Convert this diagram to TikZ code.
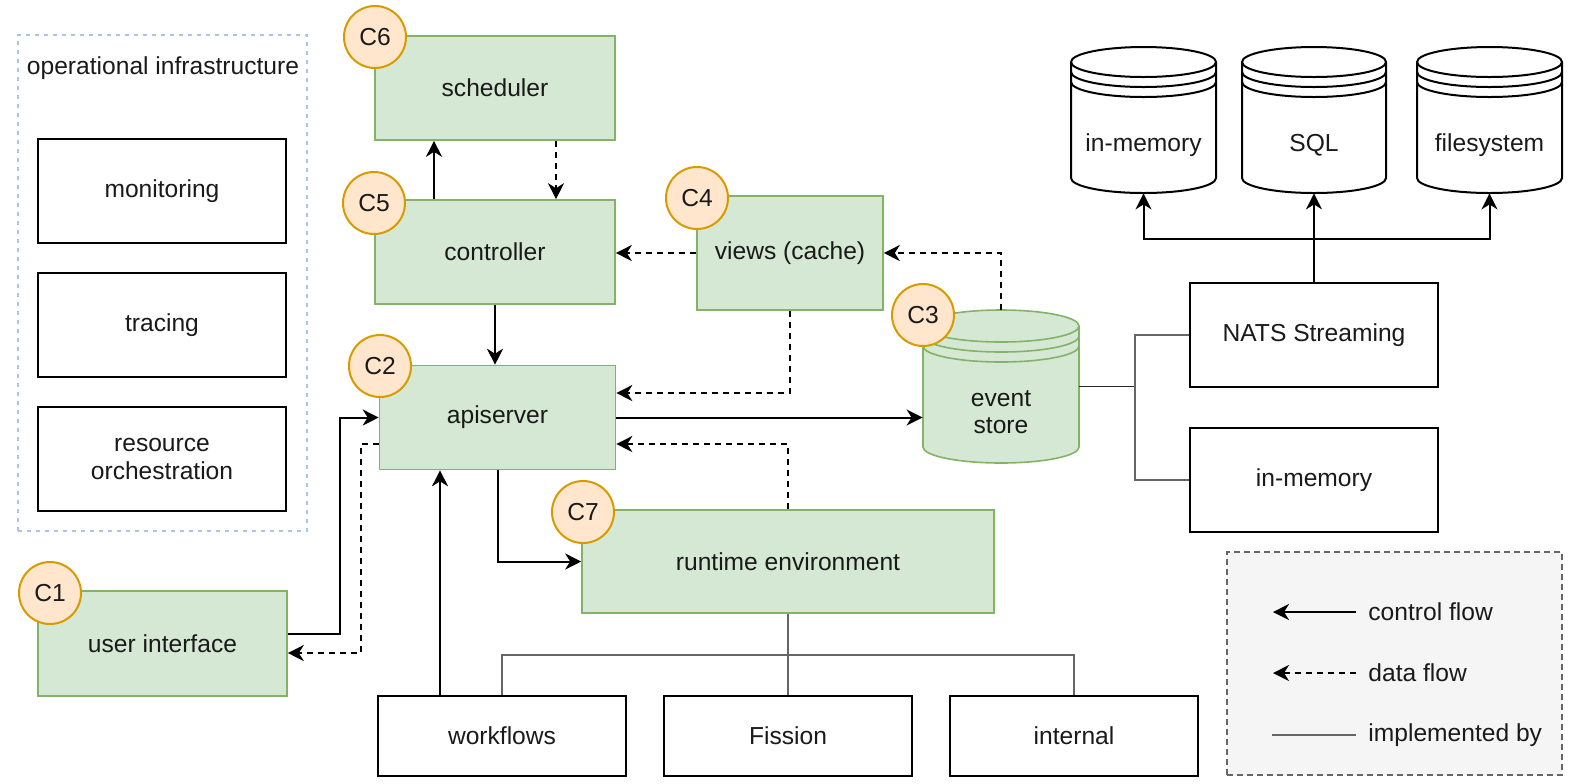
\documentclass[tikz,border=0pt]{standalone}
\usepackage{fontspec}
\setmainfont{Liberation Sans}
\usetikzlibrary{arrows.meta}
\definecolor{gfill}{HTML}{D5E8D4}
\definecolor{gline}{HTML}{82B366}
\definecolor{ofill}{HTML}{FFE6CC}
\definecolor{oline}{HTML}{D79B00}
\definecolor{infrac}{HTML}{A9C4EB}
\definecolor{implc}{HTML}{666666}
\definecolor{legfill}{HTML}{F5F5F5}
\definecolor{legline}{HTML}{666666}
\definecolor{txtc}{HTML}{1A1A1A}
\newcommand{\dbcyl}[9]{%
  \pgfmathsetmacro{\cylrx}{(#2-#1)/4}%
  \pgfmathsetmacro{\cylry}{#5/2}%
  \filldraw[fill=#7,draw=#8,line width=#9] (#1,#3+#5) -- (#1,#4-#5)
    arc[start angle=180,end angle=360,x radius=\cylrx pt,y radius=\cylry pt]
    -- (#2,#3+#5)
    arc[start angle=0,end angle=180,x radius=\cylrx pt,y radius=\cylry pt] -- cycle;
  \draw[draw=#8,line width=#9] (#1,#3+#5) arc[start angle=180,end angle=360,x radius=\cylrx pt,y radius=\cylry pt];
  \draw[draw=#8,line width=#9] (#1,#3+#5+#6) arc[start angle=180,end angle=360,x radius=\cylrx pt,y radius=\cylry pt];
  \draw[draw=#8,line width=#9] (#1,#3+#5+2*#6) arc[start angle=180,end angle=360,x radius=\cylrx pt,y radius=\cylry pt];
}
\begin{document}
\begin{tikzpicture}[x=0.5pt,y=-0.5pt,
  every node/.style={font=\fontsize{12.3}{13.8}\selectfont, align=center, inner sep=0pt, text=txtc},
  sz/.style n args={2}{minimum width={(#1)*0.5pt}, minimum height={(#2)*0.5pt}},
  gbox/.style={draw=gline, fill=gfill, line width=0.8pt},
  wbox/.style={draw=black, fill=white, line width=1pt},
  badge/.style={circle, draw=oline, fill=ofill, line width=1pt, minimum size=31pt},
  ctl/.style={draw=black, line width=1pt, -{Stealth[length=8pt,width=8pt,inset=2.5pt]}},
  dat/.style={draw=black, line width=1pt, dash pattern=on 3pt off 2.5pt, -{Stealth[length=8pt,width=8pt,inset=2.5pt]}},
  impl/.style={draw=implc, line width=0.7pt},
  infrabox/.style={draw=infrac, line width=0.8pt, dash pattern=on 2pt off 2.5pt},
  legbox/.style={draw=legline, fill=legfill, line width=0.8pt, dash pattern=on 3pt off 2pt}
]
\useasboundingbox (0,0) rectangle (1573,783);

% operational infrastructure
\node[infrabox, sz={289}{496}] (infra) at (162.5,283) {};
\node (infralbl) at (163,68) {operational infrastructure};
\node[wbox, sz={248}{104}] (mon) at (162,191) {monitoring};
\node[wbox, sz={248}{104}] (trace) at (162,325) {tracing};
\node[wbox, sz={248}{104}] (res) at (162,459) {resource\\orchestration};

% green components
\node[gbox, sz={240}{104}] (sched) at (495,88) {scheduler};
\node[gbox, sz={240}{104}] (ctrl) at (495,252) {controller};
\node[gbox, sz={186}{114}] (views) at (790,253) {views (cache)};
\node[gbox, sz={236}{104}] (api) at (497.5,417.5) {apiserver};
\node[gbox, sz={249}{105}] (ui) at (162.5,643.5) {user interface};
\node[gbox, sz={412}{103}] (rt) at (788,561.5) {runtime environment};

% implementations
\node[wbox, sz={248}{80}] (wf) at (502,736) {workflows};
\node[wbox, sz={248}{80}] (fis) at (788,736) {Fission};
\node[wbox, sz={248}{80}] (int) at (1074,736) {internal};
\node[wbox, sz={248}{104}] (nats) at (1314,335) {NATS Streaming};
\node[wbox, sz={248}{104}] (mem) at (1314,480) {in-memory};

% event store cylinder
\dbcyl{923}{1079}{310}{463}{16}{10}{gfill}{gline}{0.8pt}
\node[sz={156}{153}] (es) at (1001,386.5) {};
\node (estext) at (1001,412) {event\\store};

% storage cylinders
\dbcyl{1071}{1216}{47}{193}{15}{10}{white}{black}{1pt}
\dbcyl{1242}{1386}{47}{193}{15}{10}{white}{black}{1pt}
\dbcyl{1417}{1562}{47}{193}{15}{10}{white}{black}{1pt}
\node[sz={145}{146}] (st1) at (1143.5,120) {};
\node[sz={144}{146}] (st2) at (1314,120) {};
\node[sz={145}{146}] (st3) at (1489.5,120) {};
\node (st1t) at (1143.5,145) {in-memory};
\node (st2t) at (1314,145) {SQL};
\node (st3t) at (1489.5,145) {filesystem};

% control / data flows
\draw[ctl] ([xshift=-30.5pt]ctrl.north) -- ([xshift=-30.5pt]sched.south);
\draw[dat] ([xshift=30.5pt]sched.south) -- ([xshift=30.5pt]ctrl.north);
\draw[dat] (views.west) -- (views.west -| ctrl.east);
\draw[dat] (es.north) |- (views.east);
\draw[ctl] (ctrl.south) -- (ctrl.south |- api.north);
\draw[dat] (views.south) |- ([yshift=12.25pt]api.east);
\draw[dat] (rt.north) |- ([yshift=-13.25pt]api.east);
\draw[ctl] (api.east) -- (api.east -| es.west);
\draw[ctl] (api.south) |- (rt.west);
\draw[ctl] ([yshift=4.75pt]ui.east) -- ++(26pt,0) |- (api.west);
\draw[dat] ([yshift=-13.25pt]api.west) -- ++(-9pt,0) |- ([yshift=-4.75pt]ui.east);
\draw[ctl] ([xshift=-31pt]wf.north) -- ([xshift=-31pt]wf.north |- api.south);

% implemented by
\coordinate (rtj) at (788,655);
\draw[impl] (rt.south) -- (rtj);
\draw[impl] (wf.north) -- (wf.north |- rtj) -- (int.north |- rtj) -- (int.north);
\draw[impl] (fis.north) -- (fis.north |- rtj);
\coordinate (esj) at (1135,386.5);
\draw[impl, draw=black!85] (es.east) -- (esj);
\draw[impl] (nats.west) -- (nats.west -| esj) -- (mem.west -| esj) -- (mem.west);

% NATS to storages
\coordinate (nj) at (1314,239);
\draw[ctl] (nats.north) -- (st2.south);
\draw[ctl] (nj) -| (st1.south);
\draw[ctl] (nj) -| (st3.south);

% badges
\node[badge] (c6) at (375,37) {C6};
\node[badge] (c5) at (374,203) {C5};
\node[badge] (c4) at (697,198) {C4};
\node[badge] (c2) at (380,366) {C2};
\node[badge] (c3) at (923,315) {C3};
\node[badge] (c7) at (583,512) {C7};
\node[badge] (c1) at (50,593) {C1};

% legend
\node[legbox, sz={335}{223}] (leg) at (1394.5,663.5) {};
\coordinate (l1a) at (1356,612); \coordinate (l1b) at (1273,612);
\coordinate (l2a) at (1356,673); \coordinate (l2b) at (1273,673);
\coordinate (l3a) at (1356,735); \coordinate (l3b) at (1272,735);
\draw[ctl] (l1a) -- (l1b);
\draw[dat] (l2a) -- (l2b);
\draw[impl] (l3a) -- (l3b);
\node[anchor=west] (lt1) at (1368,612) {control flow};
\node[anchor=west] (lt2) at (1368,673) {data flow};
\node[anchor=west] (lt3) at (1368,735) {implemented by};
\end{tikzpicture}
\end{document}
